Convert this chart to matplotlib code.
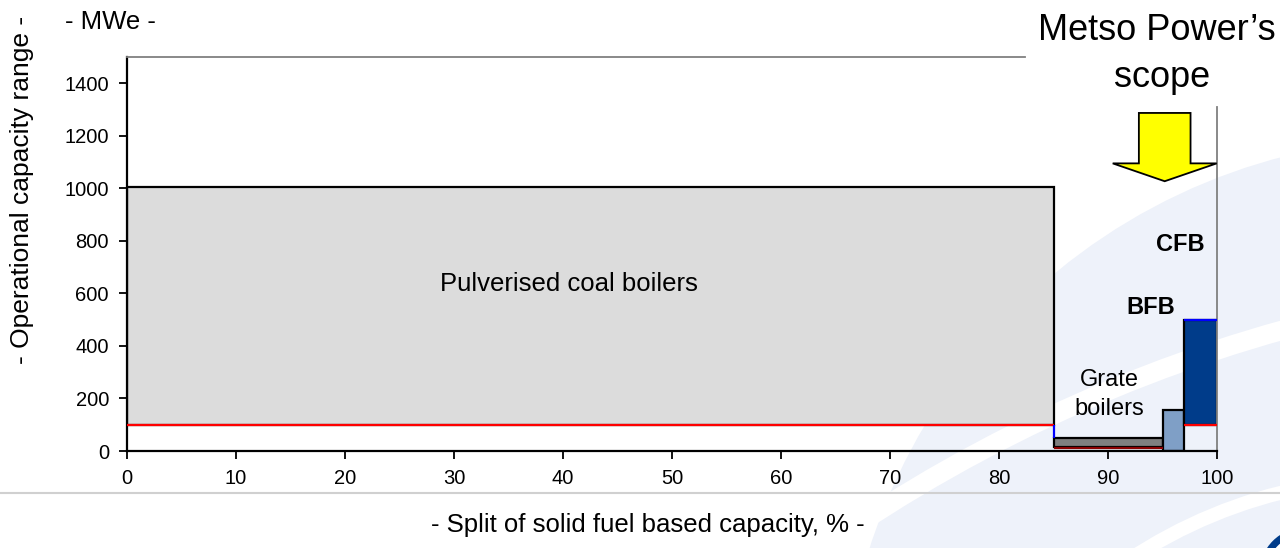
import matplotlib.pyplot as plt
from matplotlib.patches import Circle, FancyArrow

plt.rcParams['font.family'] = ['Liberation Sans', 'DejaVu Sans']

# boiler technologies as floating bars: share of capacity (x) vs MWe range (y)
tech = ['Pulverised coal', 'Grate', 'BFB', 'CFB']
x_left = [0, 85, 95, 97]
x_width = [85, 10, 2, 3]
cap_low = [100, 15, 0, 100]
cap_high = [1005, 50, 158, 500]
colors = ['#DCDCDC', '#7F7F7F', '#7F9FC6', '#003C8A']

# lower bound lines (red) and upper edge lines (blue)
red_y = [100, 12, 100]
red_x0 = [0, 85, 97]
red_x1 = [85, 95, 100]
red_c = ['#FF0000', '#8B0000', '#FF0000']

xticks = list(range(0, 101, 10))
yticks = list(range(0, 1401, 200))

fig = plt.figure(figsize=(12.8, 5.48), dpi=100)

# pale blue background swoosh (slide decoration)
px = fig.dpi_scale_trans
fig.patches.append(Circle((14.30, -1.78), 5.88, transform=px, facecolor='#EEF2FA',
                          edgecolor='none', zorder=-10))
fig.patches.append(Circle((16.85, -12.24), 14.97, transform=px, facecolor='none',
                          edgecolor='white', linewidth=14, zorder=-9))
fig.patches.append(Circle((14.0, -4.2), 4.9, transform=px, facecolor='none',
                          edgecolor='white', linewidth=10, zorder=-9))
fig.patches.append(Circle((13.05, -0.25), 0.42, transform=px, facecolor='white',
                          edgecolor='#003C8A', linewidth=5, zorder=-5))
fig.patches.append(Circle((13.05, -0.25), 0.3, transform=px, facecolor='none',
                          edgecolor='#E8743B', linewidth=3, zorder=-5))
fig.add_artist(plt.Line2D([0, 1], [0.1, 0.1], transform=fig.transFigure,
                          color='#D0D0D0', linewidth=1.5, zorder=-4))

ax = fig.add_axes([0.0992, 0.177, 0.8516, 0.719])
ax.set_facecolor('none')

for xl, w, lo, hi, c in zip(x_left, x_width, cap_low, cap_high, colors):
    ax.bar(xl, hi - lo, width=w, bottom=lo, align='edge', color=c,
           edgecolor='black', linewidth=1.6, zorder=2)

for y, a, b, c in zip(red_y, red_x0, red_x1, red_c):
    ax.hlines(y, a, b, colors=c, linewidth=1.6, zorder=3)
ax.vlines(85, 50, 100, colors='#0000FF', linewidth=1.6, zorder=3)
ax.hlines(500, 97, 100, colors='#0000FF', linewidth=1.6, zorder=3)

ax.set_xlim(0, 100)
ax.set_ylim(0, 1500)
ax.set_xticks(xticks)
ax.set_yticks(yticks)
ax.tick_params(direction='out', length=6, width=1.3, labelsize=14.5, pad=7)

for s in ['left', 'bottom']:
    ax.spines[s].set_linewidth(1.6)
ax.spines['top'].set_color('#808080')
ax.spines['top'].set_linewidth(1.3)
ax.spines['top'].set_bounds(0, 82.4)
ax.spines['right'].set_color('#808080')
ax.spines['right'].set_linewidth(1.3)
ax.spines['right'].set_bounds(0, 1308)

ax.text(40.5, 635, 'Pulverised coal boilers', fontsize=18.5, ha='center', va='center')
ax.text(90.1, 270, 'Grate', fontsize=17, ha='center', va='center')
ax.text(90.1, 160, 'boilers', fontsize=17, ha='center', va='center')
ax.text(93.9, 548, 'BFB', fontsize=17, fontweight='bold', ha='center', va='center')
ax.text(96.6, 785, 'CFB', fontsize=17, fontweight='bold', ha='center', va='center')

ax.add_patch(FancyArrow(95.2, 1287, 0, -260, width=4.74, head_width=9.54,
                        head_length=68, length_includes_head=True,
                        facecolor='#FFFF00', edgecolor='black', linewidth=1.3,
                        clip_on=False, zorder=4))

fig.text(0.904, 0.945, 'Metso Power\u2019s', fontsize=26, ha='center', va='center')
fig.text(0.908, 0.858, 'scope', fontsize=26, ha='center', va='center')
fig.text(0.0859, 0.960, '- MWe -', fontsize=18.5, ha='center', va='center')
fig.text(0.0172, 0.653, '- Operational capacity range -', fontsize=19,
         rotation=90, ha='center', va='center')
fig.text(0.506, 0.042, '- Split of solid fuel based capacity, % -', fontsize=18.5,
         ha='center', va='center')

fig.savefig('out.png', dpi=100)
